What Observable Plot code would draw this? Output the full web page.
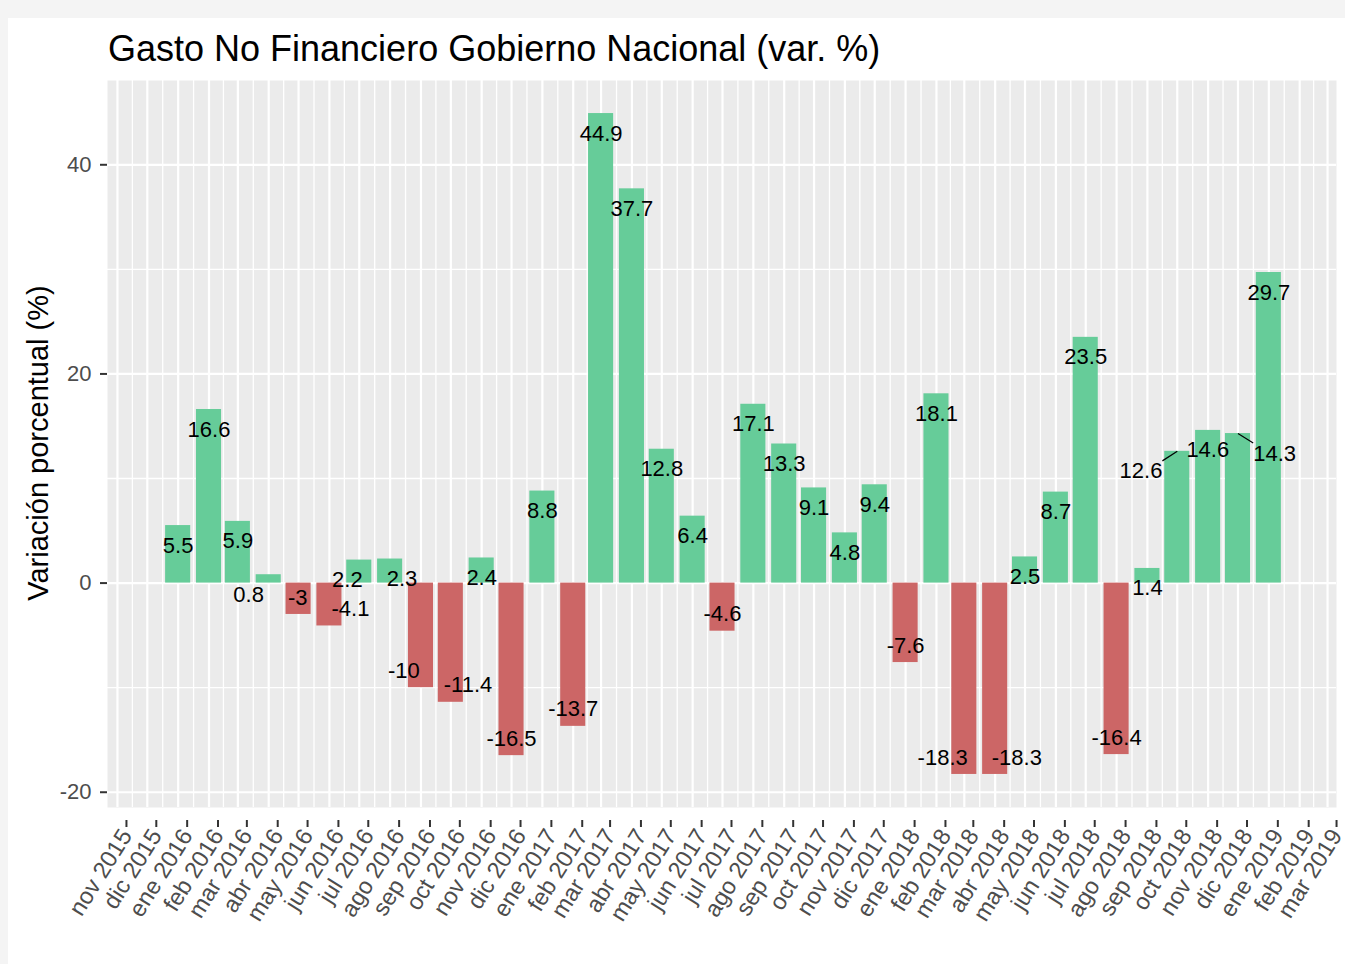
<!DOCTYPE html>
<html><head><meta charset="utf-8">
<script src="https://cdn.jsdelivr.net/npm/d3@7"></script>
<script src="https://cdn.jsdelivr.net/npm/@observablehq/plot@0.6"></script>
<style>
html,body{margin:0;padding:0;background:#f4f4f4;width:1345px;height:964px;overflow:hidden;font-family:"Liberation Sans",Arial,sans-serif;}
#card{position:absolute;left:8px;top:18px;right:0;bottom:0;background:#fff;}
#title{position:absolute;left:108px;top:29px;font-size:36px;line-height:40px;color:#000;white-space:nowrap;}
#ylab{position:absolute;left:38px;top:443px;transform:translate(-50%,-50%) rotate(-90deg);font-size:29px;line-height:32px;white-space:nowrap;color:#000;}
#chart{position:absolute;left:0;top:70px;}
</style></head><body>
<div id="card"></div>
<div id="title">Gasto No Financiero Gobierno Nacional (var. %)</div>
<div id="ylab">Variación porcentual (%)</div>
<div id="chart"></div>
<script>
// ---- data ----
const months = [
  "2016-01","2016-02","2016-03","2016-04","2016-05","2016-06","2016-07","2016-08","2016-09","2016-10","2016-11","2016-12",
  "2017-01","2017-02","2017-03","2017-04","2017-05","2017-06","2017-07","2017-08","2017-09","2017-10","2017-11","2017-12",
  "2018-01","2018-02","2018-03","2018-04","2018-05","2018-06","2018-07","2018-08","2018-09","2018-10","2018-11","2018-12",
  "2019-01"
];
const values = [
  5.5, 16.6, 5.9, 0.8, -3, -4.1, 2.2, 2.3, -10, -11.4, 2.4, -16.5,
  8.8, -13.7, 44.9, 37.7, 12.8, 6.4, -4.6, 17.1, 13.3, 9.1, 4.8, 9.4,
  -7.6, 18.1, -18.3, -18.3, 2.5, 8.7, 23.5, -16.4, 1.4, 12.6, 14.6, 14.3,
  29.7
];
const monthNames = ["ene","feb","mar","abr","may","jun","jul","ago","sep","oct","nov","dic"];
const xTickFirst = "2015-11-01";
const xTickLast = "2019-03-01";
const yTicks = [-20, 0, 20, 40];
const yMinorTicks = [-10, 10, 30];

// ---- build ----
const DAY = 864e5;
const data = months.map((m, i) => ({date: new Date(m + "-01T00:00:00Z"), value: values[i], label: String(values[i])}));
const tickDates = d3.utcMonth.range(new Date(xTickFirst + "T00:00:00Z"), new Date(+new Date(xTickLast + "T00:00:00Z") + DAY));
const minorDates = d3.pairs(tickDates).map(([a, b]) => new Date((+a + +b) / 2));
const halfW = 12.6 * DAY;

const W = 1345, H = 894;
const FONT = "Liberation Sans";
const LABEL_SIZE = 22;

function make(extra) {
  return Plot.plot({
    width: W, height: H,
    marginTop: 10, marginBottom: 157, marginLeft: 107, marginRight: 9,
    style: {fontFamily: FONT, background: "transparent", overflow: "visible"},
    x: {type: "utc", domain: [new Date("2015-10-22T00:00:00Z"), new Date("2019-03-10T00:00:00Z")]},
    y: {domain: [-21.46, 48.06]},
    marks: [
      Plot.frame({fill: "#EBEBEB", stroke: "none"}),
      Plot.ruleY(yMinorTicks, {stroke: "white", strokeWidth: 1.3}),
      Plot.ruleX(minorDates, {stroke: "white", strokeWidth: 1.3}),
      Plot.ruleY(yTicks, {stroke: "white", strokeWidth: 2.2}),
      Plot.ruleX(tickDates, {stroke: "white", strokeWidth: 2.2}),
      Plot.rectY(data, {
        x1: d => new Date(+d.date - halfW), x2: d => new Date(+d.date + halfW),
        y1: 0, y2: "value",
        fill: d => d.value >= 0 ? "#66CC99" : "#CC6666"
      }),
      Plot.axisY(yTicks, {
        tickFormat: d => String(d), tickSize: 7, tickPadding: 9, fontSize: 22,
        color: "#4d4d4d", stroke: "#333", strokeWidth: 2, label: null
      }),
      Plot.axisX(tickDates, {
        tickFormat: d => `${monthNames[d.getUTCMonth()]} ${d.getUTCFullYear()}`,
        tickRotate: -58, tickSize: 7, tickPadding: 4, fontSize: 23.5,
        dx: 9, dy: 13,
        color: "#4d4d4d", stroke: "#333", strokeWidth: 2, label: null
      }),
      ...extra
    ]
  });
}

const base = make([]);
const X = base.scale("x"), Y = base.scale("y");
const ctx = document.createElement("canvas").getContext("2d");
ctx.font = `${LABEL_SIZE}px "${FONT}"`;

// simple label repel (horizontal), in the spirit of ggrepel
const padX = 12, padY = 2, lh = LABEL_SIZE * 0.95;
const labs = data.map(d => {
  const ax = X.apply(d.date), ay = Y.apply(d.value);
  return {d, ax, ay, x: ax, y: ay + (d.value >= 0 ? 20 : -17), w: ctx.measureText(d.label).width};
});
const xmin = 107, xmax = W - 9;
for (let it = 0; it < 400; it++) {
  for (let i = 0; i < labs.length; i++) {
    for (let j = i + 1; j < labs.length; j++) {
      const a = labs[i], b = labs[j];
      const ox = (a.w + b.w) / 2 + 2 * padX - Math.abs(a.x - b.x);
      const oy = lh + 2 * padY - Math.abs(a.y - b.y);
      if (ox > 0 && oy > 0) {
        const s = a.x <= b.x ? -1 : 1;
        a.x += s * ox * 0.25; b.x -= s * ox * 0.25;
      }
    }
  }
  for (const l of labs) l.x = Math.max(xmin + l.w / 2, Math.min(xmax - l.w / 2, l.x));
}
const segs = [];
for (const l of labs) {
  const bx = Math.max(l.x - l.w / 2, Math.min(l.x + l.w / 2, l.ax));
  const by = Math.max(l.y - lh / 2, Math.min(l.y + lh / 2, l.ay));
  if (Math.hypot(bx - l.ax, by - l.ay) > 17) {
    segs.push({x1: X.invert(l.ax), y1: Y.invert(l.ay), x2: X.invert(bx), y2: Y.invert(by)});
  }
}
const labelData = labs.map(l => ({x: X.invert(l.x), y: Y.invert(l.y), text: l.d.label}));

const chart = make([
  Plot.link(segs, {x1: "x1", y1: "y1", x2: "x2", y2: "y2", stroke: "black", strokeWidth: 1.2}),
  Plot.text(labelData, {x: "x", y: "y", text: "text", fontSize: LABEL_SIZE, fill: "black", textAnchor: "middle"})
]);
document.getElementById("chart").appendChild(chart);
</script>
</body></html>
